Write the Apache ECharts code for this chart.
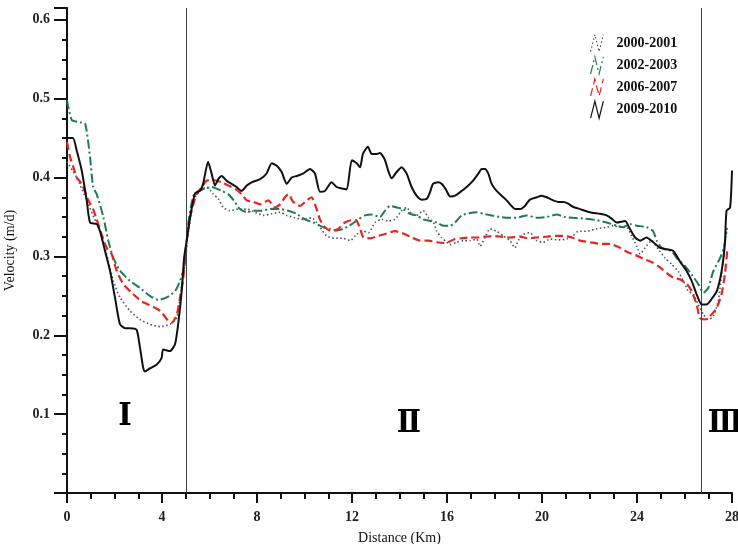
<!DOCTYPE html>
<html><head><meta charset="utf-8">
<script src="https://cdn.jsdelivr.net/npm/echarts@6/dist/echarts.min.js"></script>
<style>html,body{margin:0;padding:0;background:#fff}#c{width:738px;height:544px}</style>
</head><body><div id="c"></div>
<script>
// Series names
const seriesNames = ['2000-2001', '2002-2003', '2006-2007', '2009-2010'];
// Axis ticks
const xTicks = [0, 4, 8, 12, 16, 20, 24, 28];
const yTickLabels = ['0.1', '0.2', '0.3', '0.4', '0.5', '0.6'];
// Zone boundaries (km) and zone labels
const zoneBounds = [5.0, 26.7];
const zoneLabels = [[2.44, 0.097, 'Ⅰ'], [14.4, 0.088, 'Ⅱ'], [27.72, 0.088, 'Ⅲ']];

// Velocity (m/d) vs distance (km)
const v2000 = [[0,0.42],[0.41,0.40],[0.83,0.371],[1.25,0.341],[1.53,0.32],[1.74,0.294],[1.95,0.269],[2.23,0.248],[2.65,0.231],[3.07,0.22],[3.49,0.214],[3.92,0.211],[4.34,0.214],[4.62,0.222],[4.76,0.248],[4.9,0.282],[5.04,0.316],[5.18,0.345],[5.32,0.371],[5.6,0.383],[5.88,0.388],[6.16,0.379],[6.37,0.373],[6.58,0.362],[6.86,0.358],[7.21,0.36],[7.57,0.36],[7.92,0.356],[8.27,0.352],[8.62,0.354],[8.97,0.356],[9.25,0.352],[9.6,0.349],[9.95,0.347],[10.3,0.349],[10.58,0.34],[10.93,0.326],[11.28,0.323],[11.63,0.323],[11.92,0.32],[12.2,0.328],[12.48,0.332],[12.69,0.33],[12.97,0.343],[13.25,0.347],[13.53,0.345],[13.81,0.347],[14.09,0.358],[14.3,0.362],[14.51,0.354],[14.72,0.352],[15.0,0.358],[15.22,0.349],[15.43,0.343],[15.57,0.332],[15.77,0.324],[15.99,0.318],[16.13,0.315],[16.41,0.318],[16.69,0.32],[16.97,0.32],[17.25,0.322],[17.39,0.313],[17.6,0.324],[17.81,0.335],[18.09,0.332],[18.37,0.326],[18.65,0.32],[18.86,0.311],[19.0,0.32],[19.21,0.328],[19.49,0.33],[19.78,0.32],[20.06,0.318],[20.34,0.322],[20.69,0.321],[21.04,0.322],[21.3,0.326],[21.53,0.332],[21.88,0.332],[22.3,0.335],[22.72,0.337],[23.0,0.339],[23.28,0.337],[23.56,0.337],[23.77,0.326],[23.99,0.313],[24.13,0.303],[24.34,0.311],[24.62,0.32],[24.9,0.309],[25.18,0.298],[25.46,0.29],[25.74,0.281],[25.95,0.269],[26.16,0.256],[26.37,0.252],[26.58,0.239],[26.8,0.226],[27.0,0.22],[27.21,0.224],[27.42,0.243],[27.56,0.277],[27.7,0.316],[27.8,0.337]];
const v2002 = [[0,0.498],[0.2,0.473],[0.55,0.47],[0.76,0.469],[0.97,0.426],[1.1,0.388],[1.25,0.379],[1.53,0.35],[1.74,0.32],[1.95,0.298],[2.23,0.282],[2.65,0.269],[3.07,0.26],[3.49,0.25],[3.85,0.245],[4.2,0.248],[4.55,0.256],[4.76,0.269],[4.97,0.29],[5.1,0.341],[5.32,0.377],[5.53,0.383],[5.81,0.386],[6.09,0.388],[6.3,0.386],[6.51,0.383],[6.79,0.379],[7.07,0.369],[7.28,0.36],[7.57,0.356],[7.85,0.358],[8.2,0.358],[8.55,0.36],[8.97,0.36],[9.32,0.358],[9.67,0.354],[10.02,0.347],[10.37,0.343],[10.65,0.339],[10.79,0.337],[11.07,0.335],[11.35,0.333],[11.63,0.335],[11.99,0.341],[12.27,0.347],[12.55,0.352],[12.83,0.353],[13.18,0.35],[13.39,0.358],[13.6,0.364],[13.88,0.362],[14.16,0.36],[14.44,0.354],[14.72,0.352],[15.0,0.347],[15.28,0.345],[15.57,0.343],[15.85,0.339],[16.13,0.339],[16.34,0.343],[16.62,0.352],[16.97,0.355],[17.25,0.356],[17.53,0.354],[17.88,0.352],[18.23,0.35],[18.58,0.349],[18.93,0.349],[19.36,0.352],[19.78,0.349],[20.2,0.35],[20.62,0.353],[20.97,0.35],[21.3,0.349],[21.74,0.348],[22.3,0.346],[22.72,0.343],[23.14,0.339],[23.42,0.337],[23.7,0.341],[23.99,0.339],[24.4,0.337],[24.68,0.332],[24.83,0.32],[25.04,0.311],[25.25,0.308],[25.46,0.307],[25.67,0.298],[26.02,0.288],[26.3,0.277],[26.58,0.265],[26.8,0.254],[27.0,0.26],[27.21,0.281],[27.5,0.298],[27.66,0.311],[27.77,0.335]];
const v2006 = [[0,0.445],[0.13,0.426],[0.27,0.413],[0.41,0.40],[0.62,0.392],[0.9,0.371],[1.1,0.36],[1.25,0.347],[1.46,0.328],[1.67,0.311],[1.88,0.303],[2.09,0.282],[2.37,0.265],[2.72,0.254],[3.14,0.243],[3.57,0.237],[3.92,0.231],[4.27,0.218],[4.41,0.216],[4.62,0.226],[4.76,0.248],[4.9,0.273],[5.04,0.32],[5.18,0.349],[5.32,0.366],[5.46,0.379],[5.67,0.388],[5.88,0.396],[6.09,0.397],[6.3,0.396],[6.51,0.394],[6.79,0.39],[7.07,0.386],[7.35,0.379],[7.57,0.371],[7.85,0.369],[8.13,0.366],[8.48,0.371],[8.76,0.362],[8.97,0.366],[9.18,0.375],[9.32,0.379],[9.53,0.369],[9.81,0.364],[10.09,0.371],[10.3,0.375],[10.51,0.36],[10.65,0.347],[10.86,0.337],[11.14,0.332],[11.42,0.335],[11.7,0.343],[11.99,0.346],[12.2,0.345],[12.34,0.335],[12.48,0.324],[12.76,0.323],[13.11,0.326],[13.46,0.329],[13.81,0.332],[14.16,0.329],[14.51,0.324],[14.86,0.32],[15.22,0.32],[15.57,0.318],[15.92,0.317],[16.34,0.322],[16.62,0.323],[16.97,0.324],[17.25,0.324],[17.6,0.325],[17.95,0.326],[18.3,0.325],[18.65,0.324],[19.07,0.325],[19.43,0.323],[19.78,0.324],[20.2,0.325],[20.55,0.326],[20.9,0.326],[21.25,0.324],[21.6,0.32],[22.02,0.318],[22.44,0.316],[22.86,0.316],[23.28,0.311],[23.63,0.305],[23.99,0.301],[24.34,0.296],[24.68,0.292],[24.97,0.286],[25.25,0.279],[25.53,0.273],[25.8,0.271],[26.1,0.265],[26.3,0.256],[26.51,0.239],[26.65,0.222],[26.86,0.22],[27.07,0.224],[27.36,0.235],[27.56,0.252],[27.7,0.277],[27.8,0.307]];
const v2009 = [[0,0.45],[0.25,0.45],[0.41,0.434],[0.62,0.409],[0.83,0.371],[0.97,0.343],[1.25,0.341],[1.39,0.332],[1.6,0.307],[1.81,0.282],[2.02,0.248],[2.23,0.214],[2.45,0.209],[2.65,0.209],[2.93,0.207],[3.07,0.185],[3.2,0.16],[3.28,0.154],[3.49,0.158],[3.78,0.163],[3.98,0.171],[4.05,0.182],[4.34,0.180],[4.55,0.189],[4.68,0.214],[4.83,0.256],[4.93,0.298],[5.04,0.32],[5.18,0.349],[5.39,0.38],[5.6,0.383],[5.73,0.392],[5.94,0.42],[6.09,0.405],[6.23,0.39],[6.37,0.398],[6.51,0.402],[6.72,0.396],[6.93,0.392],[7.14,0.388],[7.35,0.383],[7.57,0.39],[7.78,0.394],[8.13,0.398],[8.4,0.405],[8.62,0.418],[8.83,0.415],[9.04,0.407],[9.25,0.392],[9.46,0.40],[9.67,0.402],[9.94,0.405],[10.23,0.411],[10.44,0.405],[10.65,0.382],[10.86,0.383],[11.14,0.394],[11.35,0.388],[11.57,0.386],[11.78,0.385],[11.99,0.422],[12.2,0.418],[12.34,0.413],[12.46,0.43],[12.67,0.439],[12.83,0.43],[13.04,0.43],[13.18,0.431],[13.39,0.422],[13.52,0.409],[13.67,0.399],[13.88,0.407],[14.09,0.413],[14.3,0.405],[14.51,0.388],[14.72,0.377],[14.93,0.372],[15.15,0.373],[15.28,0.381],[15.41,0.392],[15.62,0.394],[15.77,0.392],[15.95,0.385],[16.13,0.376],[16.34,0.377],[16.62,0.383],[16.9,0.39],[17.1,0.396],[17.32,0.405],[17.46,0.411],[17.6,0.411],[17.74,0.405],[17.88,0.392],[18.09,0.383],[18.3,0.377],[18.51,0.371],[18.72,0.364],[18.86,0.36],[19.07,0.36],[19.28,0.364],[19.49,0.372],[19.78,0.375],[19.99,0.377],[20.2,0.375],[20.4,0.372],[20.69,0.369],[20.9,0.369],[21.1,0.367],[21.3,0.363],[21.6,0.36],[22.02,0.356],[22.44,0.354],[22.72,0.352],[22.93,0.348],[23.14,0.343],[23.5,0.345],[23.7,0.335],[23.92,0.324],[24.13,0.32],[24.4,0.324],[24.68,0.318],[24.97,0.311],[25.25,0.309],[25.53,0.307],[25.8,0.294],[26.1,0.281],[26.3,0.269],[26.51,0.252],[26.72,0.239],[26.93,0.239],[27.14,0.246],[27.36,0.256],[27.56,0.281],[27.7,0.316],[27.77,0.358],[27.92,0.362],[28.0,0.409]];

const seriesData = [v2000, v2002, v2006, v2009];
const colors = ['#4f5068', '#1f7a52', '#e3281f', '#111111'];
const dashTypes = [[1.5, 2.5], [9, 3, 2, 3], [8, 4], 'solid'];
const widths = [1.6, 2, 2.2, 2];

const serif = '"Liberation Serif", "DejaVu Serif", serif';
const iconPath = 'path://M0,20 L5,0 L10,20 L15,0';

const chart = echarts.init(document.getElementById('c'), null, {renderer: 'canvas'});

const series = seriesNames.map((n, i) => ({
  name: n,
  type: 'line',
  data: seriesData[i],
  showSymbol: false,
  smooth: 0.2,
  z: 2 + i,
  lineStyle: {color: colors[i], width: widths[i], type: dashTypes[i]},
  itemStyle: {color: colors[i]}
}));

series[0].markLine = {
  silent: true,
  symbol: ['none', 'none'],
  label: {show: false},
  lineStyle: {color: '#444', width: 1, type: 'solid'},
  data: zoneBounds.map(v => ({xAxis: v}))
};

series.push({
  type: 'scatter',
  name: 'zones',
  data: zoneLabels,
  symbol: 'circle',
  symbolSize: 1,
  itemStyle: {color: 'rgba(0,0,0,0)'},
  silent: true,
  z: 10,
  label: {
    show: true,
    position: 'inside',
    formatter: p => p.data[2],
    fontFamily: '"DejaVu Serif Condensed", "DejaVu Serif", serif',
    fontWeight: 'bold',
    fontSize: 32,
    color: '#000',
    opacity: 1,
    textBorderWidth: 0
  }
});

chart.setOption({
  animation: false,
  backgroundColor: '#fff',
  grid: {left: 67, right: 6, top: 8, bottom: 51, containLabel: false, outerBoundsMode: 'none'},
  legend: {
    orient: 'vertical',
    left: 585,
    top: 29,
    itemWidth: 15,
    itemHeight: 17,
    itemGap: 4,
    textStyle: {fontFamily: serif, fontWeight: 'bold', fontSize: 14, color: '#111', padding: [0, 0, 0, 7]},
    data: seriesNames.map((n, i) => ({
      name: n,
      icon: iconPath,
      itemStyle: {color: 'rgba(0,0,0,0)', borderColor: colors[i], borderWidth: 1.2, borderType: dashTypes[i] === 'solid' ? 'solid' : dashTypes[i]}
    }))
  },
  xAxis: {
    type: 'value',
    min: 0, max: 28, interval: 4,
    name: 'Distance (Km)',
    nameLocation: 'middle',
    nameGap: 38,
    nameTextStyle: {fontFamily: serif, fontSize: 14, color: '#111'},
    axisLine: {show: true, lineStyle: {color: '#111', width: 2}},
    axisTick: {show: true, length: 10, lineStyle: {color: '#111', width: 2}},
    minorTick: {show: true, splitNumber: 4, length: 6, lineStyle: {color: '#111', width: 2}},
    splitLine: {show: false},
    axisLabel: {fontFamily: serif, fontWeight: 'bold', fontSize: 14, color: '#222', margin: 17,
      formatter: v => xTicks.indexOf(v) >= 0 ? String(v) : ''}
  },
  yAxis: {
    type: 'value',
    min: 0, max: 0.615, interval: 0.1,
    name: 'Velocity (m/d)',
    nameLocation: 'middle',
    nameGap: 50,
    nameRotate: 90,
    nameTextStyle: {fontFamily: serif, fontSize: 14, color: '#111'},
    axisLine: {show: true, lineStyle: {color: '#111', width: 2}},
    axisTick: {show: true, length: 13, lineStyle: {color: '#111', width: 2}},
    minorTick: {show: true, splitNumber: 4, length: 5, lineStyle: {color: '#111', width: 2}},
    splitLine: {show: false},
    axisLabel: {fontFamily: serif, fontWeight: 'bold', fontSize: 14, color: '#222', margin: 17,
      formatter: v => { const s = v.toFixed(1); return (yTickLabels.indexOf(s) >= 0 && Math.abs(v - parseFloat(s)) < 1e-6) ? s : ''; }}
  },
  series: series
});
</script>
</body></html>
